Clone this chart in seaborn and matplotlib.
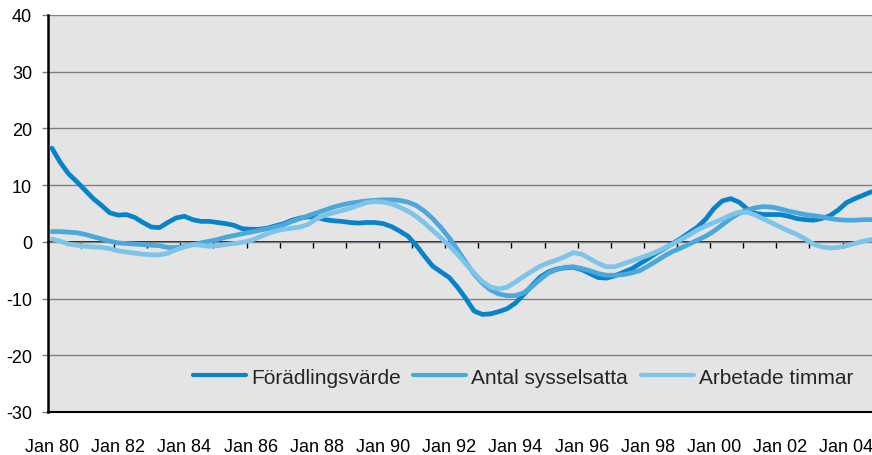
import numpy as np
import pandas as pd
import matplotlib.pyplot as plt
import seaborn as sns

# Quarterly series, Jan 80 - Q4 04 (annual % change)
start_year = 1980

foradling = [16.5, 14.0, 12.0, 10.6, 9.1, 7.6, 6.4, 5.1, 4.7, 4.8, 4.3, 3.4,
             2.6, 2.5, 3.4, 4.2, 4.5, 3.9, 3.6, 3.6, 3.4, 3.2, 2.9, 2.3,
             2.2, 2.2, 2.4, 2.8, 3.2, 3.8, 4.2, 4.4, 4.3, 3.9, 3.7, 3.6,
             3.4, 3.3, 3.4, 3.4, 3.2, 2.7, 1.9, 1.0, -0.6, -2.5, -4.3, -5.3,
             -6.3, -8.0, -10.0, -12.2, -12.8, -12.7, -12.3, -11.8, -10.8, -9.3, -7.7, -6.2,
             -5.3, -4.8, -4.6, -4.5, -4.9, -5.6, -6.3, -6.4, -6.0, -5.4, -4.8, -3.9,
             -3.0, -2.0, -1.2, -0.3, 0.6, 1.6, 2.6, 4.0, 5.9, 7.2, 7.6, 7.0,
             5.8, 5.0, 4.8, 4.8, 4.8, 4.5, 4.1, 3.9, 3.8, 4.1, 4.6, 5.6,
             6.9, 7.6, 8.2, 8.8]

sysselsatta = [1.8, 1.8, 1.7, 1.6, 1.3, 0.9, 0.5, 0.1, -0.2, -0.3, -0.4, -0.5,
               -0.6, -0.7, -1.0, -1.0, -0.8, -0.5, -0.2, 0.1, 0.4, 0.8, 1.1, 1.4,
               1.7, 2.0, 2.3, 2.6, 3.0, 3.6, 4.1, 4.6, 5.1, 5.6, 6.1, 6.5,
               6.8, 7.0, 7.2, 7.3, 7.4, 7.4, 7.3, 7.0, 6.4, 5.4, 4.1, 2.5,
               0.7, -1.4, -3.6, -5.7, -7.3, -8.5, -9.2, -9.5, -9.5, -9.0, -7.9, -6.6,
               -5.5, -4.9, -4.5, -4.4, -4.7, -5.1, -5.6, -5.9, -5.9, -5.8, -5.5, -5.1,
               -4.3, -3.4, -2.5, -1.7, -1.1, -0.4, 0.3, 1.0, 1.9, 3.0, 4.1, 5.0,
               5.6, 6.0, 6.2, 6.1, 5.8, 5.4, 5.1, 4.8, 4.6, 4.4, 4.1, 3.9,
               3.8, 3.8, 3.9, 3.9]

timmar = [0.5, 0.1, -0.4, -0.6, -0.8, -0.9, -1.0, -1.2, -1.6, -1.8, -2.0, -2.2,
          -2.3, -2.3, -2.0, -1.4, -0.9, -0.5, -0.6, -0.8, -0.7, -0.5, -0.3, -0.1,
          0.2, 0.8, 1.4, 1.9, 2.2, 2.4, 2.6, 3.1, 4.1, 4.7, 5.1, 5.5,
          5.9, 6.4, 6.9, 7.1, 7.0, 6.7, 6.1, 5.4, 4.5, 3.3, 2.0, 0.7,
          -0.7, -2.2, -3.9, -5.5, -7.0, -8.0, -8.3, -8.0, -7.1, -6.1, -5.2, -4.3,
          -3.7, -3.2, -2.6, -1.9, -2.2, -3.0, -3.8, -4.4, -4.4, -3.9, -3.4, -2.9,
          -2.4, -1.8, -1.1, -0.4, 0.4, 1.2, 2.1, 2.8, 3.4, 4.0, 4.7, 5.2,
          5.2, 4.7, 4.0, 3.3, 2.6, 1.9, 1.3, 0.5, -0.4, -0.9, -1.1, -1.0,
          -0.7, -0.3, 0.1, 0.4]

series_names = ["Förädlingsvärde", "Antal sysselsatta", "Arbetade timmar"]
colors = ["#0882CA", "#4AA8DC", "#7EC4E9"]
tick_years = list(range(1980, 2005, 2))
tick_labels = ["Jan %02d" % (y % 100) for y in tick_years]

years = start_year + np.arange(len(foradling)) / 4
df = pd.DataFrame({"year": years,
                   series_names[0]: foradling,
                   series_names[1]: sysselsatta,
                   series_names[2]: timmar})
long = df.melt(id_vars="year", var_name="serie", value_name="value")

sns.set_theme(style="ticks")
plt.rcParams['font.family'] = ['Liberation Sans', 'DejaVu Sans']
plt.rcParams['axes.unicode_minus'] = False

fig = plt.figure(figsize=(8.72, 4.56), dpi=100)
ax = fig.add_axes([0.055, 0.0943, 0.945, 0.871])
ax.set_facecolor("#E4E4E4")

sns.lineplot(data=long, x="year", y="value", hue="serie", hue_order=series_names,
             palette=dict(zip(series_names, colors)), linewidth=3.4, ax=ax,
             legend=True, zorder=3)

ax.set_xlim(1979.88, 2004.77)
ax.set_ylim(-30, 40)
ax.set_yticks(range(-30, 41, 10))
ax.set_xticks(tick_years)
ax.set_xticklabels(tick_labels)
ax.set_xlabel("")
ax.set_ylabel("")

ax.yaxis.grid(True, color="#7F7F7F", linewidth=1.0)
ax.xaxis.grid(False)
ax.tick_params(axis="y", direction="out", length=4.5, width=1, color="#7F7F7F",
               labelsize=13, pad=7, labelcolor="black")
ax.tick_params(axis="x", length=0, labelsize=13, pad=18.5, labelcolor="black")

for side in ["top", "right"]:
    ax.spines[side].set_visible(False)
ax.spines["left"].set_color("black")
ax.spines["left"].set_linewidth(1.8)
ax.spines["bottom"].set_color("black")
ax.spines["bottom"].set_linewidth(1.5)

# axis line at zero with yearly tick marks
sec = ax.secondary_xaxis(0, transform=ax.transData)
sec.set_xticks(np.arange(1980, 2005) - 0.12)
sec.tick_params(direction="out", length=4.5, width=1, color="black", labelbottom=False)
sec.spines["bottom"].set_color("black")
sec.spines["bottom"].set_linewidth(1.2)

handles, labels = ax.get_legend_handles_labels()
for h in handles:
    h.set_linewidth(3.0)
ax.legend(handles, labels, loc="center", bbox_to_anchor=(0.5765, 0.088), ncol=3,
          frameon=False, fontsize=15, handlelength=2.55, handletextpad=0.25,
          columnspacing=0.6)

fig.savefig("out.png", dpi=100)
